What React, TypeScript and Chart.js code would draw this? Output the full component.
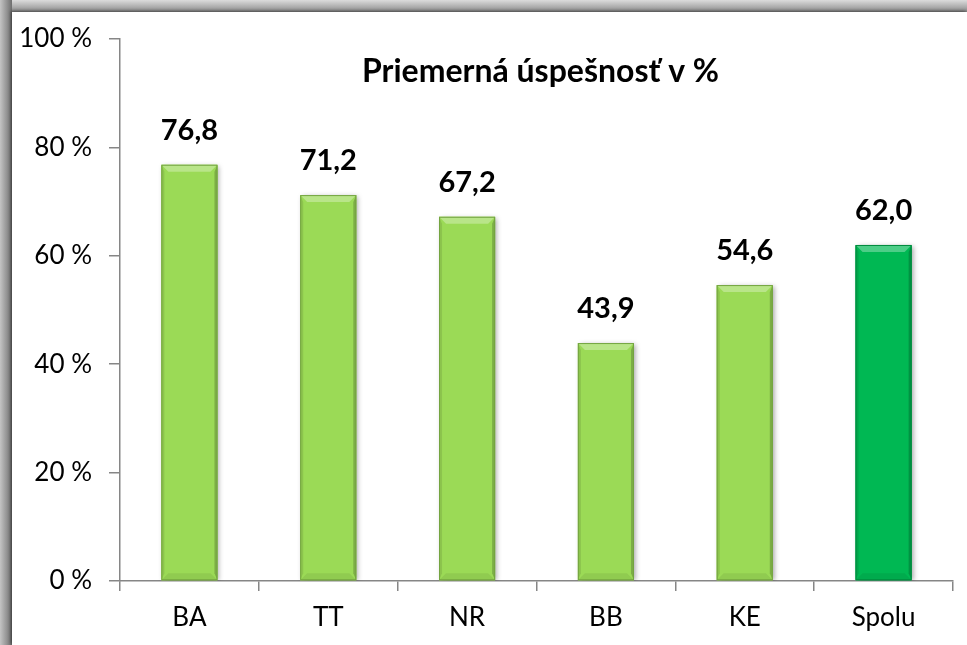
import React, { useEffect, useRef } from "react";
import { Chart, registerables } from "chart.js";

Chart.register(...registerables);

const categories = ["BA", "TT", "NR", "BB", "KE", "Spolu"];
const values = [76.8, 71.2, 67.2, 43.9, 54.6, 62.0];
const yTicks = [0, 20, 40, 60, 80, 100];
const chartTitle = "Priemerná úspešnosť v %";

const FONT = "Lato, 'Open Sans', sans-serif";
const LIGHT = "#9BDA56";
const DARK = "#00B853";

function shade(hex: string, amt: number) {
  const n = parseInt(hex.slice(1), 16);
  let r = (n >> 16) & 255, g = (n >> 8) & 255, b = n & 255;
  const f = (c: number) => Math.max(0, Math.min(255, Math.round(amt > 0 ? c + (255 - c) * amt : c * (1 + amt))));
  return `rgb(${f(r)},${f(g)},${f(b)})`;
}

const overlayPlugin = {
  id: "overlay",
  beforeDatasetsDraw(chart: any) {
    const ctx = chart.ctx;
    ctx.save();
    ctx.shadowColor = "rgba(0,0,0,0.35)";
    ctx.shadowBlur = 5;
    ctx.shadowOffsetX = 2;
    ctx.shadowOffsetY = 1;
  },
  afterDatasetsDraw(chart: any) {
    const ctx = chart.ctx;
    ctx.restore();
    const meta = chart.getDatasetMeta(0);
    const ds = chart.data.datasets[0];
    meta.data.forEach((el: any, i: number) => {
      const { x, y, base, width } = el.getProps(["x", "y", "base", "width"], true);
      const l = x - width / 2, r = x + width / 2;
      const b = 7;
      const col = (ds.backgroundColor as string[])[i];
      ctx.save();
      ctx.fillStyle = shade(col, 0.3);
      ctx.beginPath();
      ctx.moveTo(l, y); ctx.lineTo(r, y); ctx.lineTo(r - b, y + b); ctx.lineTo(l + b, y + b); ctx.closePath(); ctx.fill();
      ctx.fillStyle = shade(col, -0.1);
      ctx.beginPath();
      ctx.moveTo(l, y); ctx.lineTo(l + 3, y + b); ctx.lineTo(l + 3, base - b); ctx.lineTo(l, base); ctx.closePath(); ctx.fill();
      ctx.fillStyle = shade(col, -0.2);
      ctx.beginPath();
      ctx.moveTo(r, y); ctx.lineTo(r - 3, y + b); ctx.lineTo(r - 3, base - b); ctx.lineTo(r, base); ctx.closePath(); ctx.fill();
      ctx.fillStyle = shade(col, -0.07);
      ctx.beginPath();
      ctx.moveTo(l, base); ctx.lineTo(r, base); ctx.lineTo(r - b, base - b); ctx.lineTo(l + b, base - b); ctx.closePath(); ctx.fill();
      ctx.strokeStyle = shade(col, -0.25);
      ctx.lineWidth = 1;
      ctx.strokeRect(l + 0.5, y + 0.5, width - 1, base - y - 1);
      ctx.fillStyle = "#000";
      ctx.font = `bold 29px ${FONT}`;
      ctx.textAlign = "center";
      ctx.textBaseline = "middle";
      ctx.fillText(values[i].toFixed(1).replace(".", ","), x, y - 34);
      ctx.restore();
    });
    const area = chart.chartArea;
    ctx.save();
    ctx.fillStyle = "#000";
    ctx.font = `bold 32px ${FONT}`;
    ctx.textAlign = "center";
    ctx.textBaseline = "middle";
    ctx.fillText(chartTitle, (area.left + area.right) / 2 + 4, 60);
    ctx.restore();
  },
};

export default function App() {
  const ref = useRef<HTMLCanvasElement>(null);
  useEffect(() => {
    if (!ref.current) return;
    const chart = new Chart(ref.current, {
      type: "bar",
      data: {
        labels: categories,
        datasets: [
          {
            data: values,
            backgroundColor: categories.map((c) => (c === "Spolu" ? DARK : LIGHT)),
            borderWidth: 0,
            barPercentage: 0.404,
            categoryPercentage: 1,
          },
        ],
      },
      options: {
        responsive: false,
        animation: false,
        layout: { padding: { top: 27, right: 14, left: 0, bottom: 0 } },
        plugins: { legend: { display: false }, tooltip: { enabled: false }, title: { display: false } },
        scales: {
          y: {
            min: 0,
            max: 100,
            afterFit: (s: any) => { s.width = 108; s.paddingTop = 0; s.paddingBottom = 0; },
            afterBuildTicks: (s: any) => { s.ticks = yTicks.map((v) => ({ value: v })); },
            ticks: {
              callback: (v: any) => `${v} %`,
              font: { family: FONT, size: 26 },
              color: "#000",
              padding: 17,
            },
            grid: { display: true, drawOnChartArea: false, drawTicks: true, tickLength: 11, color: "#868686", lineWidth: 1.5 },
            border: { display: true, color: "#868686", width: 1.5 },
          },
          x: {
            afterFit: (s: any) => { s.height = 64; s.paddingLeft = 0; s.paddingRight = 0; },
            ticks: { font: { family: FONT, size: 26 }, color: "#000", padding: 11 },
            grid: { display: true, offset: true, drawOnChartArea: false, drawTicks: true, tickLength: 10, color: "#868686", lineWidth: 1.5 },
            border: { display: true, color: "#868686", width: 1.5 },
          },
        },
      },
      plugins: [overlayPlugin],
    });
    return () => chart.destroy();
  }, []);

  return (
    <div style={{ position: "fixed", left: 0, top: 0, width: 967, height: 645, overflow: "hidden", background: "#cfcfcf" }}>
      <div style={{ position: "absolute", left: 0, top: 0, width: 967, height: 12, background: "linear-gradient(to bottom, #dcdcdc, #8a8a8a)" }} />
      <div style={{ position: "absolute", left: 0, top: 0, width: 12, height: 645, background: "linear-gradient(to right, #c4c4c4, #6e6e6e)" }} />
      <div style={{ position: "absolute", left: 12, top: 12, width: 955, height: 633, background: "#fff", boxShadow: "-1px -1px 3px rgba(0,0,0,0.5)" }}>
        <canvas ref={ref} width={955} height={633} style={{ display: "block", width: 955, height: 633 }} />
      </div>
    </div>
  );
}
